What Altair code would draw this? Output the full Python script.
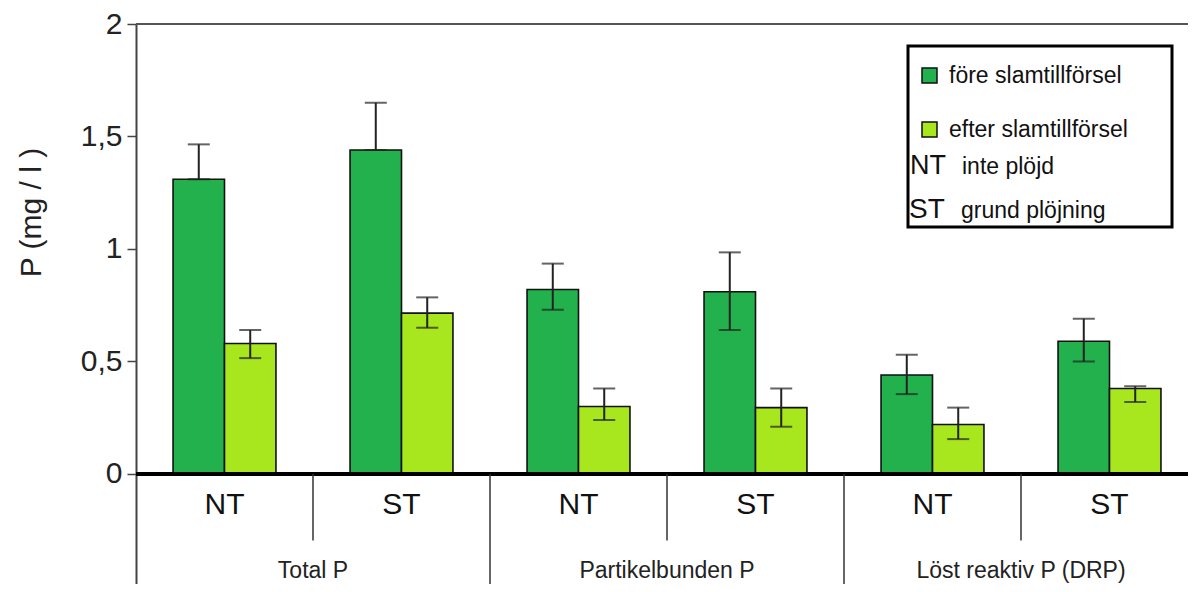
import altair as alt
import pandas as pd

# ---- data ----
groups = ["Total P", "Total P", "Partikelbunden P", "Partikelbunden P",
          "Löst reaktiv P (DRP)", "Löst reaktiv P (DRP)"]
tillage = ["NT", "ST", "NT", "ST", "NT", "ST"]
series_names = ["före slamtillförsel", "efter slamtillförsel"]

fore = [1.31, 1.44, 0.82, 0.81, 0.44, 0.59]
fore_lo = [1.31, 1.44, 0.73, 0.64, 0.355, 0.50]
fore_hi = [1.465, 1.65, 0.935, 0.985, 0.53, 0.69]

efter = [0.58, 0.715, 0.30, 0.295, 0.22, 0.38]
efter_lo = [0.515, 0.65, 0.24, 0.21, 0.155, 0.32]
efter_hi = [0.64, 0.785, 0.38, 0.38, 0.295, 0.39]

y_ticks = [0, 0.5, 1, 1.5, 2]
legend_codes = ["NT", "ST"]
legend_desc = ["inte plöjd", "grund plöjning"]

colors = ["#22b14c", "#a8e61d"]
FONT = "Liberation Sans, Arial, sans-serif"

subs = [f"{g}|{t}" for g, t in zip(groups, tillage)]

rows = []
for i in range(len(subs)):
    rows.append({"sub": subs[i], "series": series_names[0], "value": fore[i],
                 "lo": fore_lo[i], "hi": fore_hi[i]})
    rows.append({"sub": subs[i], "series": series_names[1], "value": efter[i],
                 "lo": efter_lo[i], "hi": efter_hi[i]})
df = pd.DataFrame(rows)

df_sub = pd.DataFrame({"sub": subs, "tillage": tillage, "group": groups})
# minor separators: between NT and ST inside each group (left edge of ST band)
df_minor = df_sub[df_sub["tillage"] == "ST"]
# major separators: left edge of first band of groups 2 and 3
df_major = df_sub[(df_sub["tillage"] == "NT") & (df_sub["group"] != groups[0])]
df_glabel = df_minor

Y_MIN = -0.489

x_enc = alt.X("sub:N", axis=None,
              scale=alt.Scale(domain=subs, paddingInner=0, paddingOuter=0,
                              range=[0, 1062]))
xoff = alt.XOffset("series:N",
                   scale=alt.Scale(domain=series_names, paddingInner=0,
                                   paddingOuter=0.72))
y_enc = alt.Y("value:Q",
              scale=alt.Scale(domain=[Y_MIN, 2], nice=False, zero=False),
              axis=alt.Axis(values=y_ticks,
                            labelExpr="replace(toString(datum.value), '.', ',')",
                            title="P (mg / l )", grid=False, tickSize=9,
                            labelPadding=5, labelFontSize=30, labelFont=FONT,
                            labelColor="#222", titleFontSize=30, titleFont=FONT,
                            titleFontWeight="normal", titleColor="#222",
                            titleAngle=-90, titleX=-96, titleY=188,
                            titleAlign="center", titleBaseline="alphabetic",
                            domainColor="#444", domainWidth=2,
                            tickColor="#444", tickWidth=1.5))

base = alt.Chart(df)

bars = base.mark_bar(stroke="#111", strokeWidth=1.6).encode(
    x=x_enc, xOffset=xoff, y=y_enc,
    color=alt.Color("series:N",
                    scale=alt.Scale(domain=series_names, range=colors),
                    legend=alt.Legend(title=None, orient="none", legendX=782,
                                      legendY=40, symbolType="square",
                                      symbolSize=225, symbolStrokeColor="#111",
                                      symbolStrokeWidth=1.5, symbolOpacity=1,
                                      labelFontSize=23, labelFont=FONT,
                                      labelColor="#111", rowPadding=30,
                                      labelOffset=8, labelLimit=400,
                                      padding=0)),
)

err = base.mark_rule(color="#222", strokeWidth=2).encode(
    x=x_enc, xOffset=xoff, y="lo:Q", y2="hi:Q")
cap_hi = base.mark_tick(color="#222", thickness=2, size=22).encode(
    x=x_enc, xOffset=xoff, y="hi:Q")
cap_lo = base.mark_tick(color="#222", thickness=2, size=22).encode(
    x=x_enc, xOffset=xoff, y="lo:Q")

one = pd.DataFrame({"k": [0]})

zero_line = alt.Chart(one).mark_rule(color="black", strokeWidth=4).encode(
    y=alt.datum(0))
top_line = alt.Chart(one).mark_rule(color="#555", strokeWidth=2).encode(
    y=alt.datum(2))

minor_sep = alt.Chart(df_minor).mark_rule(color="#333", strokeWidth=1.5).encode(
    x=alt.X("sub:N", bandPosition=0), y=alt.datum(0), y2=alt.datum(-0.296))
major_sep = alt.Chart(df_major).mark_rule(color="#333", strokeWidth=1.5).encode(
    x=alt.X("sub:N", bandPosition=0), y=alt.datum(0), y2=alt.datum(Y_MIN))

till_text = alt.Chart(df_sub).mark_text(
    fontSize=30, font=FONT, color="#111", baseline="middle", dy=31).encode(
    x=alt.X("sub:N"), y=alt.datum(0), text="tillage:N")

group_text = alt.Chart(df_glabel).mark_text(
    fontSize=23, font=FONT, color="#222", baseline="middle", dy=97).encode(
    x=alt.X("sub:N", bandPosition=0), y=alt.datum(0), text="group:N")

# legend frame and the NT / ST explanation lines
leg_box = alt.Chart(one).mark_rect(fill="white", stroke="black",
                                   strokeWidth=3).encode(
    x=alt.value(772), x2=alt.value(1036), y=alt.value(22), y2=alt.value(203))

leg_layers = []
code_x = [774, 773]
desc_x = [826, 825]
line_y = [150, 194]
code_size = [27, 28]
for i in range(2):
    d = pd.DataFrame({"code": [legend_codes[i]], "desc": [legend_desc[i]]})
    leg_layers.append(alt.Chart(d).mark_text(
        align="left", baseline="alphabetic", fontSize=code_size[i], font=FONT,
        color="#111").encode(x=alt.value(code_x[i]), y=alt.value(line_y[i]),
                             text="code:N"))
    leg_layers.append(alt.Chart(d).mark_text(
        align="left", baseline="alphabetic", fontSize=23, font=FONT,
        color="#111").encode(x=alt.value(desc_x[i]), y=alt.value(line_y[i]),
                             text="desc:N"))

chart = alt.layer(
    bars, err, cap_hi, cap_lo, zero_line, top_line, minor_sep, major_sep,
    till_text, group_text, leg_box, *leg_layers
).properties(
    width=1052, height=560,
    autosize=alt.AutoSizeParams(type="none"),
    padding={"left": 128, "top": 16, "right": 0, "bottom": 0},
).configure_view(stroke=None).configure(background="white")

chart.save("out.html", embed_options={"renderer": "svg", "actions": False})
